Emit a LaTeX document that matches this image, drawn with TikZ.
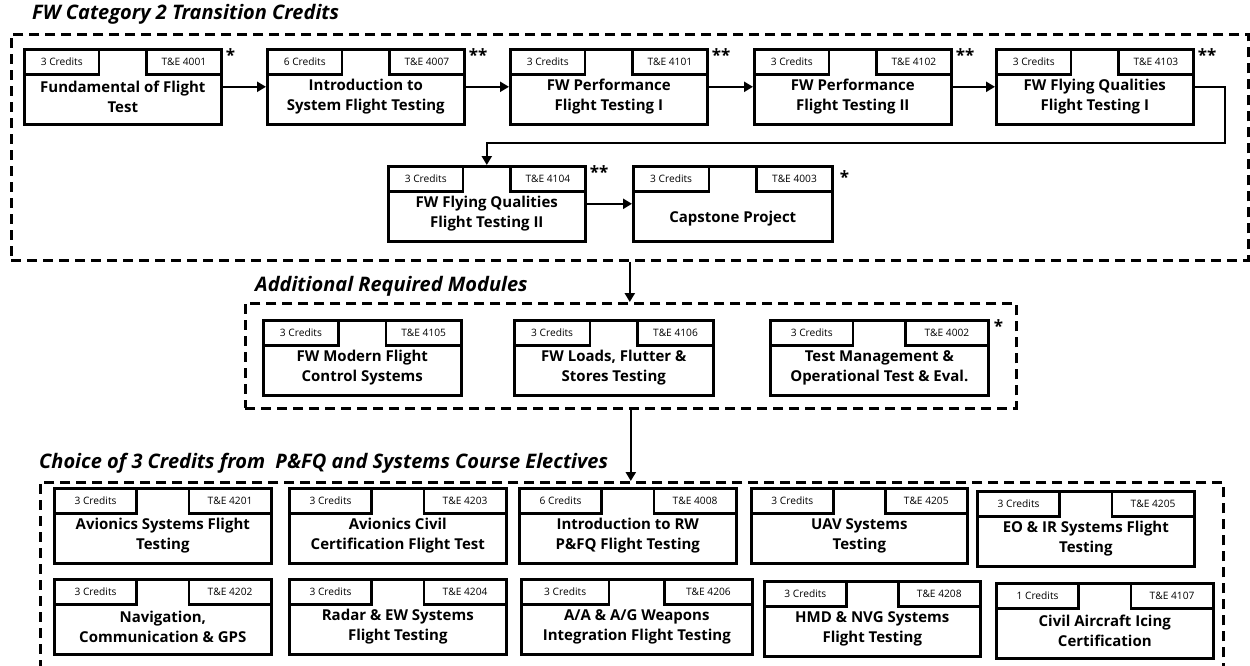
\documentclass[tikz,border=0pt]{standalone}
\usepackage{fontspec}
\setmainfont{Open Sans}
\usetikzlibrary{arrows.meta}

\newcommand{\course}[7]{%
	\pgfmathsetmacro{\tabw}{0.38*#4}
	\node [coursebox, minimum width=#4pt, anchor=north west] (#1) at (#2,#3) {};
	\node [tabbox, minimum width=\tabw pt, anchor=north west] (#1-cr) at (#1.north west) {#5};
	\node [tabbox, minimum width=\tabw pt, anchor=north east] (#1-id) at (#1.north east) {#6};
	\node [coursetext] (#1-txt) at ([yshift=-49pt]#1.north) {#7};
}

\begin{document}
\begin{tikzpicture}[x=1pt, y=-1pt,
	coursebox/.style = {draw, line width=2.6pt, minimum height=75pt, inner sep=0pt},
	tabbox/.style = {draw, line width=2.6pt, minimum height=25pt, inner sep=0pt,
		font=\fontsize{10.2}{11}\selectfont},
	coursetext/.style = {align=center, inner sep=0pt,
		font=\bfseries\fontsize{15}{20}\selectfont},
	groupbox/.style = {draw, line width=2.6pt, dash pattern=on 10pt off 6pt,
		inner sep=0pt, anchor=north west},
	heading/.style = {anchor=base west, inner sep=0pt,
		font=\bfseries\itshape\fontsize{20}{22}\selectfont},
	starnote/.style = {anchor=north west, inner sep=0pt,
		font=\bfseries\fontsize{17}{17}\selectfont},
	conn/.style = {line width=2.4pt, -{Triangle[length=9pt, width=10pt]}}]
	
	\useasboundingbox (0,0) rectangle (1250,665);
	
	% groups
	\node [groupbox, minimum width=1237pt, minimum height=226pt] (g1) at (10,33) {};
	\node [groupbox, minimum width=771pt, minimum height=105pt] (g2) at (244,302) {};
	\node [groupbox, minimum width=1183pt, minimum height=240pt] (g3) at (39,481) {};
	
	\node [heading] (h1) at (32,19) {FW Category 2 Transition Credits};
	\node [heading] (h2) at (255,291) {Additional Required Modules};
	\node [heading] (h3) at (39,468) {Choice of 3 Credits from \ P\&FQ and Systems Course Electives};
	
	% transition credits
	\course{c1}{23}{48}{197}{3 Credits}{T\&E 4001}{Fundamental of Flight\\Test}
	\course{c2}{266}{48}{197}{6 Credits}{T\&E 4007}{Introduction to\\System Flight Testing}
	\course{c3}{509}{48}{197}{3 Credits}{T\&E 4101}{FW Performance\\Flight Testing I}
	\course{c4}{753}{48}{197}{3 Credits}{T\&E 4102}{FW Performance\\Flight Testing II}
	\course{c5}{995}{48}{197}{3 Credits}{T\&E 4103}{FW Flying Qualities\\Flight Testing I}
	\course{c6}{387}{165}{197}{3 Credits}{T\&E 4104}{FW Flying Qualities\\Flight Testing II}
	\course{c7}{632}{165}{199}{3 Credits}{T\&E 4003}{\mbox{}\\Capstone Project}
	
	\node [starnote] (c1-s) at ([xshift=3pt]c1.north east) {*};
	\node [starnote] (c2-s) at ([xshift=3pt]c2.north east) {**};
	\node [starnote] (c3-s) at ([xshift=3pt]c3.north east) {**};
	\node [starnote] (c4-s) at ([xshift=3pt]c4.north east) {**};
	\node [starnote] (c5-s) at ([xshift=3pt]c5.north east) {**};
	\node [starnote] (c6-s) at ([xshift=3pt]c6.north east) {**};
	\node [starnote] (c7-s) at ([xshift=6pt,yshift=-5pt]c7.north east) {*};
	
	\draw[conn] (c1.east) -- (c2.west);
	\draw[conn] (c2.east) -- (c3.west);
	\draw[conn] (c3.east) -- (c4.west);
	\draw[conn] (c4.east) -- (c5.west);
	\coordinate (turn) at (1225,143);
	\draw[conn] (c5.east) -| (turn) -| (c6.north);
	\draw[conn] (c6.east) -- (c7.west);
	
	% required modules
	\course{m1}{262}{319}{198}{3 Credits}{T\&E 4105}{FW Modern Flight\\Control Systems}
	\course{m2}{513}{319}{199}{3 Credits}{T\&E 4106}{FW Loads, Flutter \&\\Stores Testing}
	\course{m3}{769}{319}{218}{3 Credits}{T\&E 4002}{Test Management \&\\Operational Test \& Eval.}
	\node [starnote] (m3-s) at ([xshift=4pt]m3.north east) {*};
	
	% electives
	\course{e1}{53}{487}{217}{3 Credits}{T\&E 4201}{Avionics Systems Flight\\Testing}
	\course{e2}{288}{487}{217}{3 Credits}{T\&E 4203}{Avionics Civil\\Certification Flight Test}
	\course{e3}{518}{487}{217}{6 Credits}{T\&E 4008}{Introduction to RW\\P\&FQ Flight Testing}
	\course{e4}{750}{487}{216}{3 Credits}{T\&E 4205}{UAV Systems\\Testing}
	\course{e5}{976}{490}{217}{3 Credits}{T\&E 4205}{EO \& IR Systems Flight\\Testing}
	\course{e6}{53}{578}{217}{3 Credits}{T\&E 4202}{Navigation,\\Communication \& GPS}
	\course{e7}{288}{578}{217}{3 Credits}{T\&E 4204}{Radar \& EW Systems\\Flight Testing}
	\course{e8}{520}{578}{231}{3 Credits}{T\&E 4206}{A/A \& A/G Weapons\\Integration Flight Testing}
	\course{e9}{763}{580}{216}{3 Credits}{T\&E 4208}{HMD \& NVG Systems\\Flight Testing}
	\course{e10}{995}{582}{217}{1 Credits}{T\&E 4107}{Civil Aircraft Icing\\Certification}
	
	\draw[conn] (g1.south) -- (g1.south |- g2.north);
	\draw[conn] (g2.south) -- (g2.south |- g3.north);
	
\end{tikzpicture}
\end{document}
